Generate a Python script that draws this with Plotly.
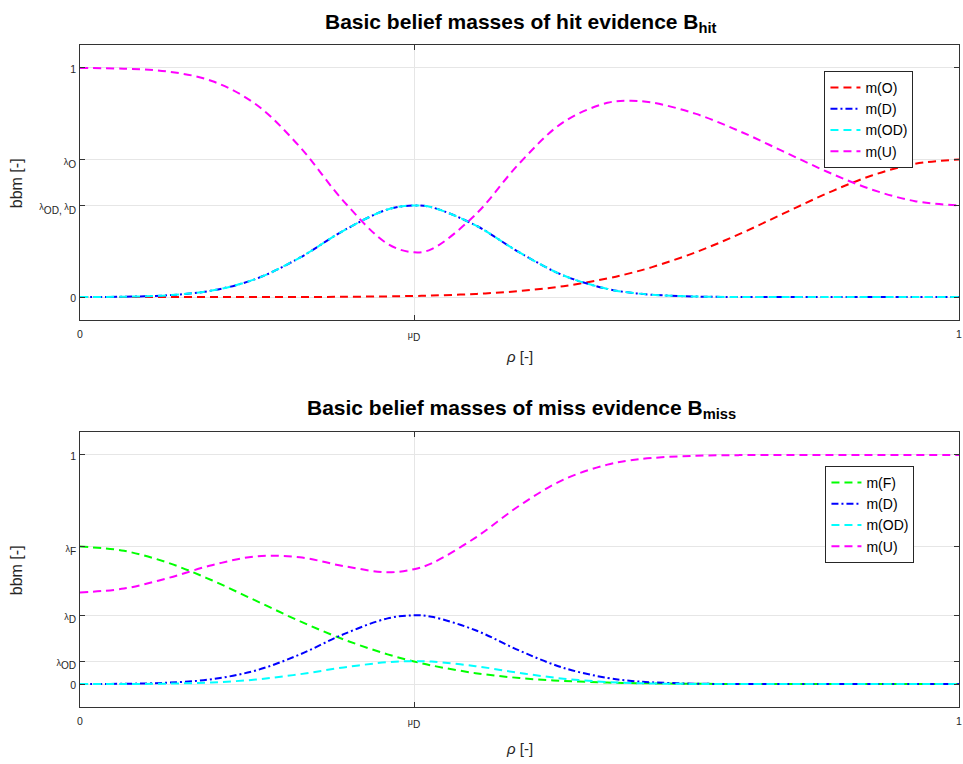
import plotly.graph_objects as go

# rho sample positions (mu_D = 0.38)
rho = [0.0, 0.05, 0.10, 0.15, 0.20, 0.25, 0.30, 0.35, 0.38, 0.40, 0.45, 0.50,
       0.55, 0.60, 0.625, 0.65, 0.70, 0.75, 0.80, 0.85, 0.90, 0.95, 1.0]

# ---- hit evidence ----
hit_O = [0.0, 0.0, 0.0, 0.0001, 0.0002, 0.0005, 0.0013, 0.0031, 0.0049, 0.0067, 0.0137, 0.0264,
         0.0477, 0.0812, 0.1035, 0.1298, 0.1948, 0.2747, 0.3639, 0.4529, 0.5295, 0.5815, 0.6]
hit_D = [0.0003, 0.0017, 0.0079, 0.0284, 0.0792, 0.1718, 0.2904, 0.3824, 0.4, 0.392, 0.3131, 0.1947,
         0.0943, 0.0356, 0.0199, 0.0104, 0.0024, 0.0004, 0.0001, 0.0, 0.0, 0.0, 0.0]
hit_OD = [0.0003, 0.0017, 0.0079, 0.0284, 0.0792, 0.1718, 0.2904, 0.3824, 0.4, 0.392, 0.3131, 0.1947,
          0.0943, 0.0356, 0.0199, 0.0104, 0.0024, 0.0004, 0.0001, 0.0, 0.0, 0.0, 0.0]
hit_U = [0.9994, 0.9966, 0.9842, 0.9431, 0.8414, 0.6559, 0.4179, 0.2321, 0.1951, 0.2093, 0.3601, 0.5842,
         0.7637, 0.8476, 0.8567, 0.8494, 0.8004, 0.7245, 0.6359, 0.5471, 0.4705, 0.4185, 0.4]

# ---- miss evidence ----
miss_F = [0.6, 0.5815, 0.5295, 0.4529, 0.3639, 0.2747, 0.1948, 0.1298, 0.0987, 0.0812, 0.0477, 0.0264,
          0.0137, 0.0067, 0.0045, 0.0031, 0.0013, 0.0005, 0.0002, 0.0001, 0.0, 0.0, 0.0]
miss_D = [0.0002, 0.0013, 0.0059, 0.0213, 0.0594, 0.1289, 0.2178, 0.2868, 0.3, 0.294, 0.2348, 0.146,
          0.0707, 0.0267, 0.0149, 0.0078, 0.0018, 0.0003, 0.0, 0.0, 0.0, 0.0, 0.0]
miss_OD = [0.0001, 0.0004, 0.002, 0.0071, 0.0198, 0.043, 0.0726, 0.0956, 0.1, 0.098, 0.0783, 0.0487,
           0.0236, 0.0089, 0.005, 0.0026, 0.0006, 0.0001, 0.0, 0.0, 0.0, 0.0, 0.0]
miss_U = [0.3997, 0.4168, 0.4626, 0.5187, 0.5569, 0.5535, 0.5148, 0.4878, 0.5013, 0.5268, 0.6392, 0.7789,
          0.892, 0.9577, 0.9756, 0.9865, 0.9963, 0.9991, 0.9997, 0.9999, 1.0, 1.0, 1.0]


def greek(letter, sub):
    # small greek letter, subscript at 70 % of the (larger) tick font
    return "<span style='font-size:9px'>%s</span><sub>%s</sub>" % (letter, sub)


def num(s):
    return "<span style='font-size:10.5px'>%s</span>" % s


# tick definitions
x_tickvals = [0, 0.38, 1]
x_ticktext = [num("0"), greek("μ", "D"), num("1")]
hit_tickvals = [0, 0.4, 0.6, 1]
hit_ticktext = [num("0"), greek("λ", "OD") + "<sub>,</sub><span style='font-size:9px'> </span>" + greek("λ", "D"),
                greek("λ", "O"), num("1")]
miss_tickvals = [0, 0.1, 0.3, 0.6, 1]
miss_ticktext = [num("0"), greek("λ", "OD"), greek("λ", "D"), greek("λ", "F"), num("1")]

FONT = "Liberation Sans, Arial, sans-serif"
DASH = "8px,5px"
DASHDOT = "7px,3px,2px,3px"

fig = go.Figure()


def add(x, y, name, color, dash, xa, ya, legend):
    fig.add_trace(go.Scatter(x=x, y=y, name=name, mode="lines",
                             line=dict(color=color, width=2, dash=dash, shape="spline", smoothing=1.0),
                             xaxis=xa, yaxis=ya, legend=legend))


add(rho, hit_O, "m(O)", "#FF0000", DASH, "x", "y", "legend")
add(rho, hit_D, "m(D)", "#0000FF", DASHDOT, "x", "y", "legend")
add(rho, hit_OD, "m(OD)", "#00FFFF", DASH, "x", "y", "legend")
add(rho, hit_U, "m(U)", "#FF00FF", DASH, "x", "y", "legend")

add(rho, miss_F, "m(F)", "#00FF00", DASH, "x2", "y2", "legend2")
add(rho, miss_D, "m(D)", "#0000FF", DASHDOT, "x2", "y2", "legend2")
add(rho, miss_OD, "m(OD)", "#00FFFF", DASH, "x2", "y2", "legend2")
add(rho, miss_U, "m(U)", "#FF00FF", DASH, "x2", "y2", "legend2")

axis_common = dict(showline=True, linecolor="#333333", linewidth=1, mirror="ticks",
                   ticks="inside", ticklen=5, tickcolor="#333333",
                   showgrid=True, gridcolor="#E6E6E6", gridwidth=1, zeroline=False,
                   ticklabeloverflow="allow",
                   tickfont=dict(family=FONT, size=14.5, color="#262626"))

top_dom = [(707 - 320) / 662, 1.0]
bot_dom = [0.0, (707 - 432) / 662]

legend_common = dict(xanchor="left", yanchor="top", bgcolor="white", bordercolor="#262626",
                     borderwidth=1, font=dict(family=FONT, size=14, color="#000000"),
                     tracegroupgap=0, itemwidth=30)

fig.update_layout(
    width=963, height=764,
    margin=dict(l=80, r=1, t=45, b=57),
    paper_bgcolor="white", plot_bgcolor="white",
    font=dict(family=FONT, color="#262626"),
    showlegend=True,
    xaxis=dict(axis_common, anchor="y", domain=[0, 1], range=[0, 1],
               tickmode="array", tickvals=x_tickvals, ticktext=x_ticktext),
    yaxis=dict(axis_common, anchor="x", domain=top_dom, range=[-0.1, 1.1],
               tickmode="array", tickvals=hit_tickvals, ticktext=hit_ticktext),
    xaxis2=dict(axis_common, anchor="y2", domain=[0, 1], range=[0, 1],
                tickmode="array", tickvals=x_tickvals, ticktext=x_ticktext),
    yaxis2=dict(axis_common, anchor="x2", domain=bot_dom, range=[-0.1, 1.1],
                tickmode="array", tickvals=miss_tickvals, ticktext=miss_ticktext),
    legend=dict(legend_common, x=(827 - 80) / 882, y=(707 - 71) / 662),
    legend2=dict(legend_common, x=(828 - 80) / 882, y=(707 - 466) / 662),
)


def ann(text, x, y, size, angle=0, color="#000000"):
    fig.add_annotation(text=text, x=x, y=y, xref="paper", yref="paper",
                       showarrow=False, textangle=angle,
                       font=dict(family=FONT, size=size, color=color),
                       xanchor="center", yanchor="middle")


ann("<b>Basic belief masses of hit evidence B<sub>hit</sub></b>", (523 - 80) / 882, (707 - 23) / 662, 21)
ann("<b>Basic belief masses of miss evidence B<sub>miss</sub></b>", (523 - 80) / 882, (707 - 409) / 662, 21)
ann("bbm [-]", (16 - 80) / 882, (707 - 183) / 662, 16, angle=-90, color="#262626")
ann("bbm [-]", (16 - 80) / 882, (707 - 570) / 662, 16, angle=-90, color="#262626")
ann("<i>ρ</i> [-]", (521 - 80) / 882, (707 - 356) / 662, 15, color="#262626")
ann("<i>ρ</i> [-]", (521 - 80) / 882, (707 - 748) / 662, 15, color="#262626")

fig.write_html("out.html")
